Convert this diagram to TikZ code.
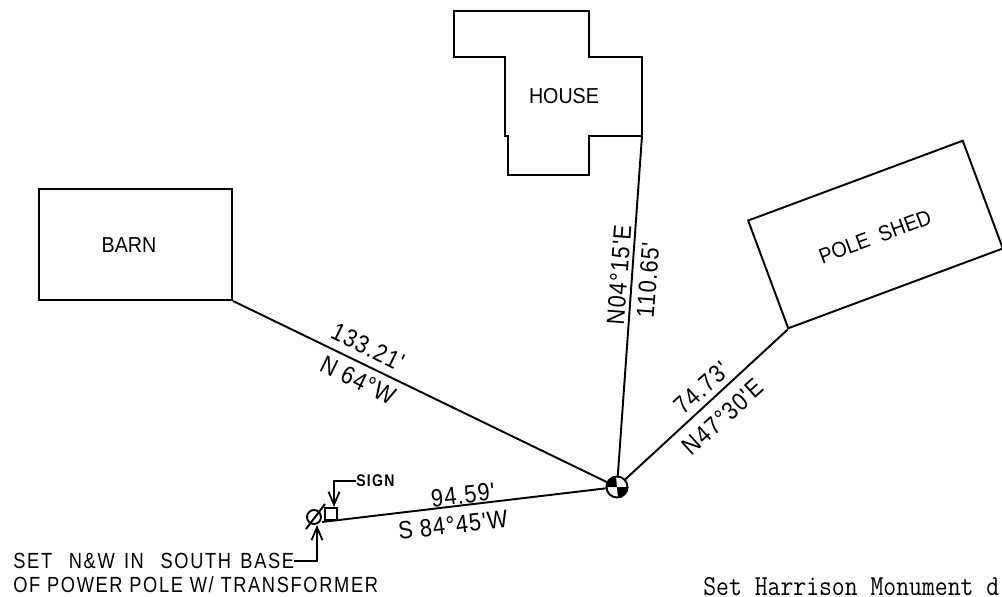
\documentclass[tikz,border=0pt]{standalone}
\usepackage{fontspec}
\usepackage{tikz}
\usetikzlibrary{arrows.meta}
\setmainfont{Liberation Sans}
\newfontfamily\leroyfont[LetterSpace=5]{Liberation Sans}
\newfontfamily\leroywide[LetterSpace=9]{Liberation Sans}
\tikzset{
    plan/.style={draw, line width=1.1pt},
    leader/.style={line width=1.1pt, -{Straight Barb[length=2.6mm, width=2.2mm, line width=1pt]}},
    bearing/.style={font=\leroyfont\fontsize{12.4pt}{14pt}\selectfont, inner sep=0pt, yscale=1.15},
    bldglabel/.style={font=\fontsize{11.2pt}{13pt}\selectfont, inner sep=0pt, yscale=1.1},
    notelabel/.style={font=\leroywide\fontsize{10.4pt}{12pt}\selectfont, inner sep=0pt, anchor=west, yscale=1.2}
}

\begin{document}
\begin{tikzpicture}[x=0.02cm, y=-0.02cm]
                \useasboundingbox (0,0) rectangle (1002,596);

                % Buildings
                \node[plan, rectangle, minimum width=3.86cm, minimum height=2.22cm] (barn) at (135.5, 244.5) {};
                \node[bldglabel] (barnlabel) at (129, 245) {BARN};
                \draw[plan, line join=miter] (454,11) -- (589,11) -- (589,57) -- (642,57) -- (642,136) coordinate (housecorner)
                    -- (589,136) -- (589,175) -- (508,175) -- (508,136) -- (505,136) -- (505,57) -- (454,57) -- cycle;
                \node[bldglabel] (houselabel) at (564, 96) {HOUSE};
                \node[plan, rectangle, rotate=20.4, minimum width=4.58cm, minimum height=2.3cm] (shed) at (875.5, 234.5) {};
                \node[rotate=20.4, bldglabel] (shedlabel) at (875, 237) {POLE \ SHED};

                % Monument
                \node[plan, circle, inner sep=0pt, minimum size=0.42cm] (monument) at (617, 487) {};
                \fill (monument.center) -- (monument.west) arc[start angle=180, end angle=90, radius=0.21cm] -- cycle;
                \fill (monument.center) -- (monument.east) arc[start angle=0, end angle=-90, radius=0.21cm] -- cycle;

                % Power pole and sign
                \node[plan, circle, inner sep=0pt, minimum size=0.28cm] (pole) at (314, 517) {};
                \draw[line width=1.1pt] (306,529) -- (325,504);
                \node[plan, rectangle, inner sep=0pt, minimum size=0.24cm] (sign) at (331, 514) {};
                \coordinate (polefoot) at (322, 522);

                % Ties
                \draw[plan] (barn.south east) -- (monument);
                \draw[plan] (housecorner) -- (monument);
                \draw[plan] (shed.south west) -- (monument);
                \draw[plan] (polefoot) -- (monument);

                % Bearings and distances
                \node[rotate=-26, bearing] (barndist) at (368, 347) {133.21'};
                \node[rotate=-26, bearing] (barnbrg) at (358, 380) {N 64°W};
                \node[rotate=85.6, bearing] (housebrg) at (619, 275) {N04°15'E};
                \node[rotate=85.6, bearing] (housedist) at (648, 280) {110.65'};
                \node[rotate=42, bearing] (sheddist) at (702, 388) {74.73'};
                \node[rotate=42, bearing] (shedbrg) at (723, 417) {N47°30'E};
                \node[rotate=6.6, bearing] (poledist) at (463, 495) {94.59'};
                \node[rotate=6.6, bearing] (polebrg) at (453, 525) {S 84°45'W};

                % Notes
                \node[notelabel, font=\bfseries\leroywide\fontsize{8pt}{9pt}\selectfont] (signlabel) at (356, 481) {SIGN};
                \node[notelabel] (baselabel) at (13, 561) {SET\hspace{0.2cm} N\&W\hspace{0.05cm} IN\hspace{0.2cm} SOUTH\hspace{0.05cm} BASE};
                \node[notelabel] (xfmrlabel) at (13, 585) {OF POWER POLE W/ TRANSFORMER};
                \draw[leader] (signlabel.west) -| ([xshift=0.06cm]sign.north);
                \draw[leader] (baselabel.east) -| ([xshift=0.06cm]pole.south);

                \node[inner sep=0pt, anchor=base west, xscale=0.862, font=\ttfamily\fontsize{16.5pt}{18pt}\selectfont] (setnote) at (703, 595) {Set Harrison Monument d};
            \end{tikzpicture}
\end{document}
